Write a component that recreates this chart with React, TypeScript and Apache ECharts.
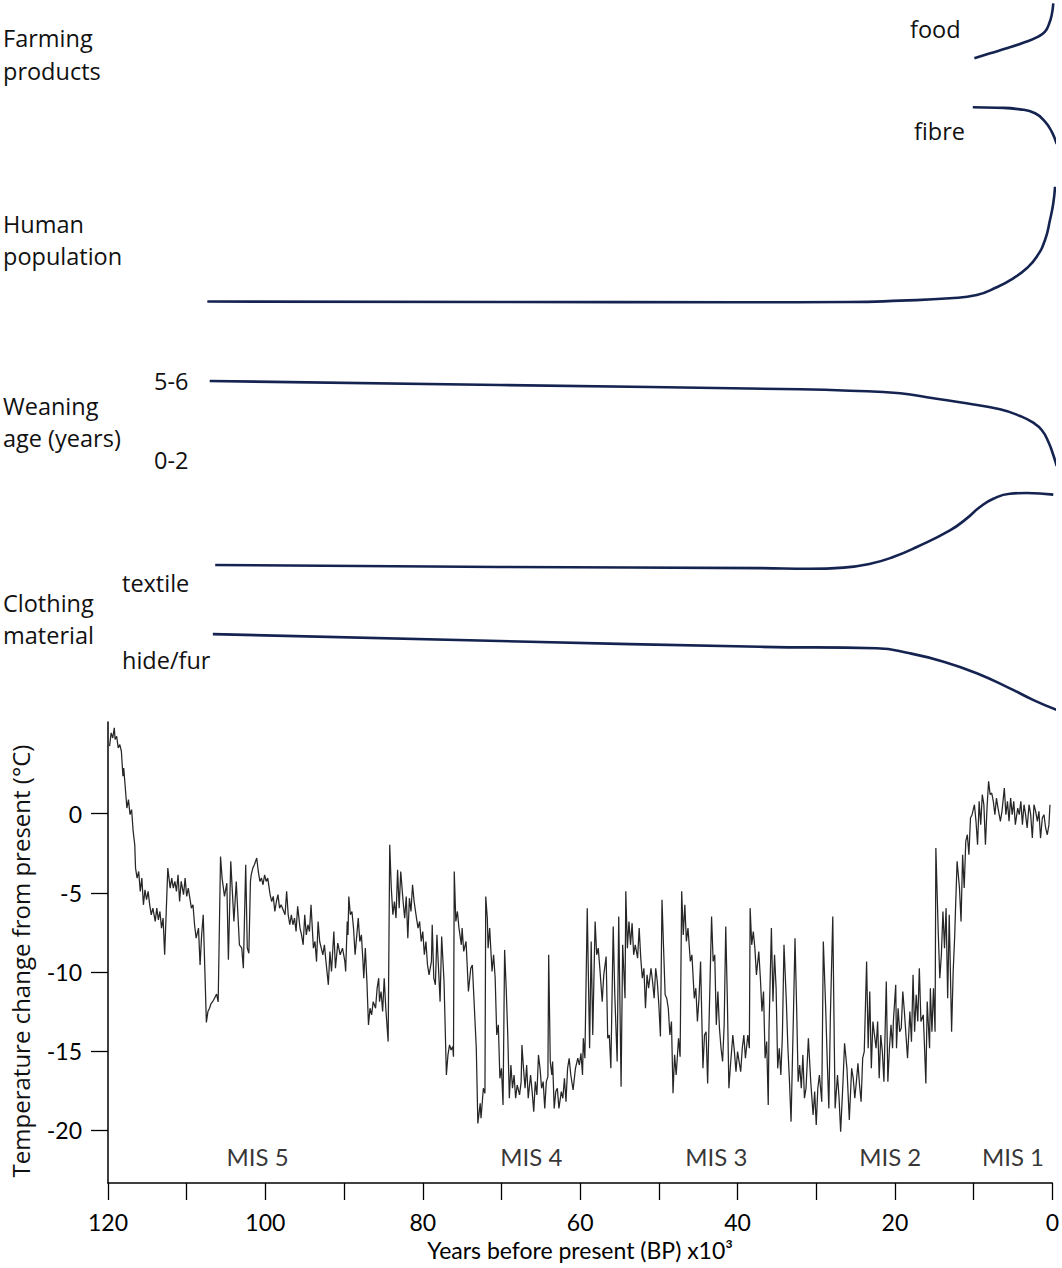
import { useEffect, useRef } from 'react';
import * as echarts from 'echarts';

// Temperature change from present (°C) vs years BP (x10^3)
const temperature: [number, number][] = [
  [119.8,4.27],[119.6,5.11],[119.4,4.79],[119.2,5.43],[119.1,4.69],[118.9,4.9],[118.7,4.16],[118.5,4.37],[118.3,3.95],[118.1,2.37],[118.0,2.89],[117.6,0.36],[117.4,0.89],[117.2,-0.06],[117.0,0.26],[116.8,-1.12],[116.6,-1.96],[116.5,-3.44],[116.3,-4.07],[116.1,-3.65],[115.9,-4.91],[115.7,-4.07],[115.5,-5.76],[115.3,-4.81],[115.1,-5.44],[114.9,-4.91],[114.7,-5.76],[114.5,-6.39],[114.3,-5.97],[114.0,-6.81],[113.8,-5.97],[113.6,-6.71],[113.4,-6.18],[113.2,-7.23],[113.0,-6.6],[112.8,-8.92],[112.4,-3.44],[112.1,-4.7],[111.9,-4.07],[111.7,-4.7],[111.5,-4.28],[111.3,-4.91],[111.1,-3.86],[110.9,-5.55],[110.7,-4.28],[110.4,-5.12],[110.2,-4.07],[110.0,-5.23],[109.8,-4.7],[109.4,-5.97],[109.2,-5.76],[109.0,-7.02],[108.8,-7.87],[108.5,-7.23],[108.3,-9.56],[108.1,-7.66],[107.9,-6.39],[107.7,-9.77],[107.5,-13.2],[107.3,-12.5],[107.1,-12.3],[106.9,-12.0],[106.6,-11.8],[106.4,-11.6],[106.2,-11.4],[106.0,-11.9],[105.7,-2.7],[105.5,-4.07],[105.2,-5.23],[104.9,-4.39],[104.7,-9.24],[104.4,-3.01],[104.2,-4.91],[104.0,-6.81],[103.7,-4.28],[103.3,-8.29],[103.0,-8.5],[102.8,-9.77],[102.5,-3.23],[102.3,-8.5],[102.1,-8.82],[101.9,-4.28],[101.8,-3.86],[101.6,-3.44],[101.4,-3.23],[101.1,-2.8],[100.9,-3.65],[100.7,-4.28],[100.5,-4.07],[100.3,-4.49],[100.1,-3.86],[99.9,-4.28],[99.7,-4.07],[99.4,-5.12],[99.2,-5.55],[99.0,-5.23],[98.8,-6.18],[98.6,-5.55],[98.4,-5.12],[98.2,-5.97],[98.0,-5.76],[97.5,-6.39],[97.3,-4.91],[97.1,-6.39],[96.9,-7.02],[96.7,-6.39],[96.5,-7.02],[96.3,-6.6],[96.1,-7.45],[95.9,-5.86],[95.6,-7.23],[95.4,-7.66],[95.2,-8.29],[95.0,-6.39],[94.8,-7.66],[94.6,-7.02],[94.4,-7.45],[94.2,-5.76],[93.9,-8.5],[93.7,-8.08],[93.5,-9.35],[93.3,-6.81],[93.1,-8.08],[92.9,-8.5],[92.7,-8.92],[92.5,-8.29],[92.3,-9.35],[92.0,-10.82],
  [91.8,-8.71],[91.6,-9.98],[91.3,-7.45],[91.1,-9.77],[90.8,-8.18],[90.5,-8.92],[90.2,-8.5],[89.9,-9.34],[89.8,-9.98],[89.6,-6.81],[89.5,-7.66],[89.4,-5.23],[89.2,-6.39],[89.0,-6.18],[88.8,-7.23],[88.6,-8.92],[88.2,-6.6],[88.0,-8.08],[87.8,-7.66],[87.6,-9.34],[87.5,-10.4],[87.3,-8.5],[87.1,-10.61],[86.9,-13.35],[86.7,-12.3],[86.5,-12.72],[86.3,-11.88],[86.0,-12.3],[85.8,-11.03],[85.6,-10.4],[85.5,-11.88],[85.3,-11.24],[85.1,-12.51],[84.9,-10.4],[84.7,-12.3],[84.4,-14.41],[84.2,-1.96],[84.0,-4.7],[83.8,-6.39],[83.6,-5.55],[83.4,-6.6],[83.2,-3.54],[83.0,-5.97],[82.8,-3.65],[82.5,-5.55],[82.3,-6.6],[82.1,-5.23],[81.9,-7.87],[81.7,-5.34],[81.5,-6.18],[81.3,-4.49],[81.1,-5.55],[80.8,-6.6],[80.6,-7.23],[80.4,-6.81],[80.2,-8.08],[80.0,-7.45],[79.8,-8.92],[79.6,-8.08],[79.4,-9.56],[79.2,-10.19],[78.9,-9.34],[78.8,-7.02],[78.6,-10.4],[78.4,-10.82],[78.2,-7.66],[78.0,-9.77],[77.8,-11.88],[77.6,-7.76],[77.3,-10.61],[77.0,-16.52],[76.8,-15.25],[76.6,-14.62],[76.4,-14.94],[76.2,-14.72],[76.1,-15.36],[76.0,-3.65],[75.8,-6.81],[75.6,-6.18],[75.4,-7.23],[75.1,-8.29],[75.0,-7.23],[74.8,-8.71],[74.5,-8.08],[74.2,-11.24],[73.9,-9.77],[73.7,-9.56],[73.5,-11.67],[73.2,-14.83],[73.0,-19.58],[72.7,-18.31],[72.6,-19.26],[72.3,-17.36],[72.1,-17.68],[72.0,-5.23],[71.8,-6.6],[71.7,-8.5],[71.5,-7.23],[71.2,-9.98],[71.0,-8.92],[70.8,-10.4],[70.6,-13.99],[70.4,-13.35],[70.2,-16.73],[70.0,-16.1],[69.8,-18.42],[69.6,-8.61],[69.4,-11.03],[69.2,-13.99],[69.0,-17.99],[68.8,-15.89],[68.6,-17.36],[68.4,-16.52],[68.2,-17.99],[68.0,-17.15],[67.7,-17.78],[67.5,-16.94],[67.4,-14.62],[67.2,-16.1],[67.0,-17.36],[66.8,-15.89],[66.6,-17.99],[66.3,-16.52],[66.1,-17.57],[65.9,-18.84],[65.7,-16.94],[65.5,-17.78],[65.3,-15.25],[65.1,-16.1],[64.9,-17.36],[64.7,-16.94],[64.5,-18.63],[64.3,-16.94],[64.1,-16.62],[64.0,-8.92],[63.8,-15.67],[63.6,-16.52],[63.5,-15.67],[63.3,-18.63],[63.1,-17.57],[62.9,-17.36],[62.7,-18.63],[62.4,-17.57],[62.2,-17.99],[62.0,-16.73],[61.8,-18.21],[61.6,-16.1],[61.4,-15.46],
  [61.19,-16.52],[60.9,-17.47],[60.6,-16.1],[60.3,-15.46],[60.1,-15.89],[59.9,-15.15],[59.7,-16.52],[59.6,-14.2],[59.4,-15.46],[59.1,-5.97],[58.8,-14.83],[58.6,-8.08],[58.4,-13.99],[58.1,-6.81],[57.9,-8.92],[57.7,-8.5],[57.5,-9.77],[57.2,-11.88],[57.0,-10.19],[56.7,-9.03],[56.5,-14.2],[56.3,-13.99],[56.1,-16.1],[55.8,-7.13],[55.6,-11.45],[55.3,-15.67],[55.1,-6.5],[54.8,-17.26],[54.6,-8.29],[54.3,-11.67],[54.2,-4.91],[54.0,-8.5],[53.8,-6.81],[53.6,-8.29],[53.4,-6.92],[53.2,-8.92],[53.0,-8.29],[52.7,-9.13],[52.5,-7.23],[52.3,-9.13],[52.1,-10.4],[51.9,-9.77],[51.7,-12.3],[51.5,-10.19],[51.3,-11.03],[51.0,-9.77],[50.8,-10.61],[50.6,-11.67],[50.4,-9.77],[50.2,-10.61],[50.0,-12.09],[49.8,-14.09],[49.6,-5.44],[49.4,-8.5],[49.2,-11.45],[49.0,-11.67],[48.8,-12.3],[48.6,-13.99],[48.4,-13.14],[48.2,-17.68],[48.0,-15.25],[47.8,-16.52],[47.5,-14.2],[47.3,-15.36],[47.1,-4.91],[46.9,-7.66],[46.7,-5.76],[46.5,-8.08],[46.3,-7.23],[46.0,-9.34],[45.8,-8.92],[45.5,-11.67],[45.3,-11.03],[45.1,-13.14],[44.9,-11.67],[44.7,-9.34],[44.4,-16.1],[44.2,-13.99],[44.0,-13.78],[43.8,-17.05],[43.6,-12.72],[43.3,-6.5],[43.1,-9.34],[42.9,-8.92],[42.7,-13.35],[42.5,-11.24],[42.3,-13.56],[42.1,-14.83],[41.9,-15.67],[41.7,-13.35],[41.5,-7.13],[41.3,-11.67],[41.1,-17.36],[40.9,-15.89],[40.6,-13.99],[40.4,-15.04],[40.2,-16.31],[40.0,-15.04],[39.8,-15.67],[39.6,-16.31],[39.4,-14.83],[39.2,-13.99],[39.0,-15.46],[38.7,-13.99],[38.5,-14.83],[38.4,-5.97],[38.2,-8.29],[38.0,-7.45],[37.8,-8.5],[37.6,-10.19],[37.3,-8.71],[37.1,-10.4],[36.9,-12.51],[36.7,-11.24],[36.5,-15.46],[36.3,-14.41],[36.1,-18.42],[36.0,-13.56],[35.7,-7.23],[35.5,-11.88],[35.3,-8.92],[35.1,-11.03],[34.9,-16.1],[34.7,-14.83],[34.5,-16.52],[34.3,-13.99],[34.1,-8.29],[33.8,-11.88],[33.6,-14.83],[33.4,-16.94],[33.2,-19.47],[32.9,-12.72],[32.7,-7.87],[32.5,-12.09],[32.3,-16.94],[32.1,-15.89],[31.9,-17.36],[31.7,-15.25],[31.5,-17.99],[31.3,-17.36],[31.0,-14.2],
  [30.7,-16.94],[30.4,-19.05],[30.2,-17.57],[30.0,-19.68],[29.8,-17.36],[29.6,-16.52],[29.3,-18.21],[29.1,-8.08],[28.8,-12.3],[28.6,-15.67],[28.4,-18.63],[28.2,-12.72],[27.9,-6.5],[27.7,-14.83],[27.6,-18.63],[27.3,-16.52],[27.1,-17.99],[26.9,-20.11],[26.6,-16.94],[26.4,-14.51],[26.1,-16.1],[25.8,-19.37],[25.5,-16.1],[25.3,-16.73],[25.1,-17.99],[24.9,-16.94],[24.7,-15.78],[24.5,-17.15],[24.3,-18.21],[24.1,-15.46],[23.9,-15.04],[23.6,-9.34],[23.4,-14.83],[23.2,-11.24],[23.0,-16.1],[22.8,-13.14],[22.6,-13.99],[22.4,-14.83],[22.2,-13.14],[22.0,-16.73],[21.8,-13.99],[21.6,-15.04],[21.4,-16.94],[21.1,-10.61],[20.9,-16.94],[20.7,-14.83],[20.5,-13.35],[20.3,-14.83],[20.2,-13.14],[19.9,-10.82],[19.8,-14.83],[19.6,-12.3],[19.4,-13.78],[19.2,-13.56],[19.0,-11.24],[18.8,-12.51],[18.6,-13.99],[18.4,-15.46],[18.1,-12.51],[17.9,-14.41],[17.7,-10.19],[17.5,-13.78],[17.3,-11.45],[17.1,-13.14],[16.9,-9.77],[16.7,-13.14],[16.4,-12.72],[16.3,-13.99],[16.07,-17.05],[15.9,-11.88],[15.6,-14.83],[15.5,-11.03],[15.3,-13.78],[15.1,-11.03],[14.9,-13.78],[14.8,-2.17],[14.5,-7.45],[14.3,-10.4],[14.1,-8.92],[13.9,-6.18],[13.7,-8.5],[13.5,-5.97],[13.3,-11.67],[13.1,-6.39],[12.8,-13.78],[12.6,-9.98],[12.4,-7.66],[12.3,-5.97],[12.1,-3.01],[11.8,-4.7],[11.6,-6.81],[11.4,-2.59],[11.2,-4.7],[11.0,-1.75],[10.8,-1.33],[10.6,-2.59],[10.4,-0.27],[10.2,-0.06],[9.9,0.57],[9.7,-0.48],[9.5,-1.96],[9.3,0.78],[9.1,-0.69],[8.9,1.21],[8.7,0.57],[8.5,-1.96],[8.3,0.36],[8.1,2.05],[7.9,1.21],[7.7,1.31],[7.5,0.78],[7.3,-0.06],[7.1,0.99],[6.9,0.36],[6.6,-0.48],[6.4,0.15],[6.1,1.63],[5.9,-0.06],[5.7,0.78],[5.5,-0.48],[5.3,0.99],[5.1,-0.06],[4.9,0.78],[4.7,-0.69],[4.4,0.36],[4.2,-0.06],[4.0,0.78],[3.8,-0.69],[3.6,0.57],[3.4,-0.06],[3.2,-0.9],[2.96,0.57],[2.75,-0.06],[2.54,-1.54],[2.33,0.57],[2.12,0.15],[1.9,-0.48],[1.7,0.15],[1.5,-1.54],[1.27,-0.27],[1.06,-0.06],[0.85,-0.9],[0.64,-1.33],[0.43,-0.69],[0.3,0.57],
];

// Schematic trend curves (relative level 0-100 within each panel)
const food: [number, number][] = [[10.1,61.1],[8.1,64.5],[6.0,67.8],[3.9,71.5],[2.2,75.1],[1.14,78.9],[0.6,84.5],[0.29,90],[0.09,97.8]];
const fibre: [number, number][] = [[10.3,28.5],[7.3,28.2],[4.3,27.1],[2.4,24.5],[1.14,18.9],[0.29,12.2],[-0.34,4]];
const population: [number, number][] = [[107.4,6.5],[70,6.2],[40,6.0],[25.9,6.1],[19.5,7.2],[13.2,9.0],[9.8,11.5],[7.27,17.5],[5.16,24.4],[3.46,32.1],[2.19,41],[1.14,53.8],[0.51,69.2],[0.09,82.1],[-0.13,94.8]];
const weaning: [number, number][] = [[107.1,89],[70.3,85],[32.2,80.7],[25.9,79.3],[19.5,76.7],[15.3,71.7],[11.1,66.7],[6.85,60.7],[4.31,54],[2.63,47.3],[1.56,40],[0.72,28.3],[0.09,15],[-0.34,4]];
const textile: [number, number][] = [[106.4,64.6],[70.3,63.75],[37.3,63.3],[31.0,63.0],[26.7,63.5],[23.3,65.1],[20.4,67.9],[17.4,72.1],[13.2,79.0],[11.1,83.9],[9.4,88.75],[7.7,92.2],[5.6,94.3],[3.46,94.6],[0.09,93.9]];
const hideFur: [number, number][] = [[106.7,35.8],[70.3,32.9],[37.3,30.5],[22.5,29.9],[18.3,27.8],[14.0,24.3],[9.8,19.5],[5.6,13.2],[2.6,8.3],[-0.34,4.2]];

const misNames = ['MIS 5', 'MIS 4', 'MIS 3', 'MIS 2', 'MIS 1'];
const misYears = [101.0, 66.2, 42.7, 20.6, 5.0];
const misLevel = -21.7;
const tempTicks = [-20, -15, -10, -5, 0];

const NAVY = '#142350';
const LEFT = 108;
const WIDTH = 946;
const sans = '"Open Sans", sans-serif';
const calib = 'Lato, sans-serif';

export default function App() {
  const ref = useRef<HTMLDivElement>(null);
  useEffect(() => {
    const chart = echarts.init(ref.current!, null, { renderer: 'svg' });
    const grids = [
      { left: LEFT, width: WIDTH, top: 722, height: 461 },
      { left: LEFT, width: WIDTH, top: 0, height: 150 },
      { left: LEFT, width: WIDTH, top: 180, height: 130 },
      { left: LEFT, width: WIDTH, top: 370, height: 100 },
      { left: LEFT, width: WIDTH, top: 480, height: 240 },
    ];
    const hiddenX = (i: number) => ({ gridIndex: i, type: 'value', min: 0, max: 120, inverse: true, show: false });
    const hiddenY = (i: number) => ({ gridIndex: i, type: 'value', min: 0, max: 100, show: false });
    const curve = (data: [number, number][], gi: number) => ({
      type: 'line', xAxisIndex: gi, yAxisIndex: gi, data, smooth: 0.5,
      showSymbol: false, clip: false, silent: true,
      lineStyle: { color: NAVY, width: 2.6 },
    });
    const txt = (text: string, x: number, y: number, extra: any = {}) => ({
      type: 'text', x, y, silent: true,
      style: { text, fontFamily: sans, fontSize: 23.5, fill: '#111', align: 'left', verticalAlign: 'middle', ...extra },
    });
    chart.setOption({
      animation: false,
      backgroundColor: '#fff',
      grid: grids,
      xAxis: [
        {
          gridIndex: 0, type: 'value', min: 0, max: 120, interval: 10, inverse: true,
          axisLine: { show: true, onZero: false, lineStyle: { color: '#000', width: 1.5 } },
          axisTick: { show: true, length: 17, lineStyle: { color: '#000', width: 1.3 } },
          axisLabel: {
            margin: 27, fontFamily: calib, fontSize: 23, color: '#000',
            formatter: (v: number) => (v % 20 === 0 ? String(v) : ''),
          },
          splitLine: { show: false },
          name: 'Years before present (BP) x10³', nameLocation: 'middle', nameGap: 55,
          nameTextStyle: { fontFamily: calib, fontSize: 23, color: '#000' },
        },
        hiddenX(1), hiddenX(2), hiddenX(3), hiddenX(4),
      ],
      yAxis: [
        {
          gridIndex: 0, type: 'value', min: -23.35, max: 5.8,
          axisLine: { show: true, onZero: false, lineStyle: { color: '#000', width: 1.5 } },
          axisTick: { show: true, length: 17, customValues: tempTicks, lineStyle: { color: '#000', width: 1.3 } },
          axisLabel: { customValues: tempTicks, margin: 26, fontFamily: calib, fontSize: 23, color: '#000' },
          splitLine: { show: false },
        },
        hiddenY(1), hiddenY(2), hiddenY(3), hiddenY(4),
      ],
      series: [
        {
          type: 'line', xAxisIndex: 0, yAxisIndex: 0, data: temperature, showSymbol: false, silent: true,
          lineStyle: { color: '#262626', width: 1.25 },
        },
        {
          type: 'scatter', xAxisIndex: 0, yAxisIndex: 0, symbolSize: 0, silent: true,
          data: misYears.map((y, i) => ({ value: [y, misLevel], name: misNames[i] })),
          label: { show: true, position: 'inside', formatter: '{b}', fontFamily: calib, fontSize: 24, color: '#000' },
        },
        curve(food, 1), curve(fibre, 1),
        curve(population, 2),
        curve(weaning, 3),
        curve(textile, 4), curve(hideFur, 4),
      ],
      graphic: [
        txt('Farming', 3, 38), txt('products', 3, 71),
        txt('Human', 3, 224), txt('population', 3, 256),
        txt('Weaning', 3, 406), txt('age (years)', 3, 438),
        txt('5-6', 154, 381), txt('0-2', 154, 460),
        txt('Clothing', 3, 603), txt('material', 3, 635),
        txt('textile', 122, 583), txt('hide/fur', 122, 660),
        txt('food', 910, 29), txt('fibre', 914, 131),
        {
          type: 'text', x: 20, y: 961, rotation: Math.PI / 2, silent: true,
          style: { text: 'Temperature change from present (°C)', fontFamily: sans, fontSize: 24, fill: '#111', align: 'center', verticalAlign: 'middle' },
        },
      ],
    });
    return () => chart.dispose();
  }, []);
  return <div ref={ref} style={{ position: 'fixed', left: 0, top: 0, width: 1062, height: 1268, background: '#fff' }} />;
}
